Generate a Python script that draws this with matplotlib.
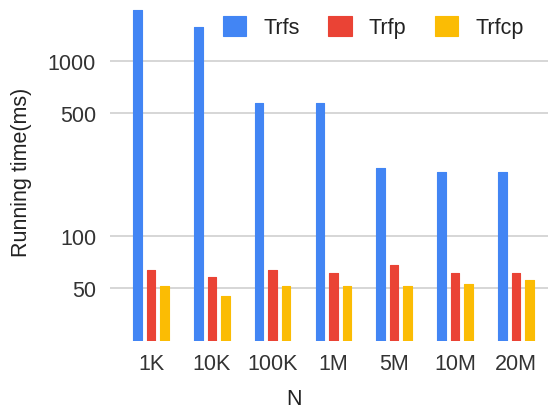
import matplotlib
matplotlib.use("Agg")
import matplotlib.pyplot as plt
from matplotlib.ticker import NullLocator, FixedLocator
import numpy as np

# data (log-scale running times, ms)
sizes = ["1K", "10K", "100K", "1M", "5M", "10M", "20M"]
trfs = [1950, 1550, 570, 570, 243, 232, 232]
trfp = [63.4, 58.3, 63.4, 61.5, 67.8, 61.5, 61.5]
trfcp = [51.5, 45.4, 51.5, 51.5, 51.5, 52.7, 55.5]
y_ticks = [50, 100, 500, 1000]

series = [("Trfs", trfs, "#4285F4"),
          ("Trfp", trfp, "#EA4335"),
          ("Trfcp", trfcp, "#FBBC04")]

plt.rcParams["font.family"] = ["Liberation Sans", "DejaVu Sans"]
fs = 15.5

fig = plt.figure(figsize=(5.49, 4.10), dpi=100)
W, H = 549, 410
ax = fig.add_axes([110 / W, (H - 342) / H, 438 / W, 342 / H])

x = np.arange(len(sizes))
width = 0.14
step = 0.222
for i, (name, vals, col) in enumerate(series):
    ax.bar(x + (i - 1) * step, vals, width, color=col, label=name,
           edgecolor=col, linewidth=0.8, joinstyle="round", zorder=3)

ax.set_yscale("log")
ax.set_ylim(25, 2254)
ax.set_xlim(-0.674, -0.674 + 438 / 60.8)
ax.yaxis.set_major_locator(FixedLocator(y_ticks))
ax.yaxis.set_minor_locator(NullLocator())
ax.set_yticklabels([str(t) for t in y_ticks])
ax.set_xticks(x)
ax.set_xticklabels(sizes)
ax.tick_params(axis="y", length=0, pad=10, labelsize=fs, labelcolor="#333333")
ax.tick_params(axis="x", length=0, pad=8.6, labelsize=fs, labelcolor="#333333")
ax.grid(axis="y", color="#d3d3d3", linewidth=1.3, zorder=0)
for s in ax.spines.values():
    s.set_visible(False)

fig.text(22 / W, 1 - 172 / H, "Running time(ms)", rotation=90, ha="center",
         va="center", fontsize=fs, color="#222222")
fig.text(294 / W, 1 - 405.5 / H, "N", ha="center", va="baseline",
         fontsize=fs, color="#222222")

fig.legend(loc="upper left", bbox_to_anchor=(223 / W, 1 - 17 / H), ncol=3,
           frameon=False, fontsize=fs, handlelength=1.07, handleheight=1.07,
           handletextpad=0.79, columnspacing=1.35, borderpad=0,
           borderaxespad=0, labelcolor="#222222")

fig.savefig("out.png", dpi=100)
